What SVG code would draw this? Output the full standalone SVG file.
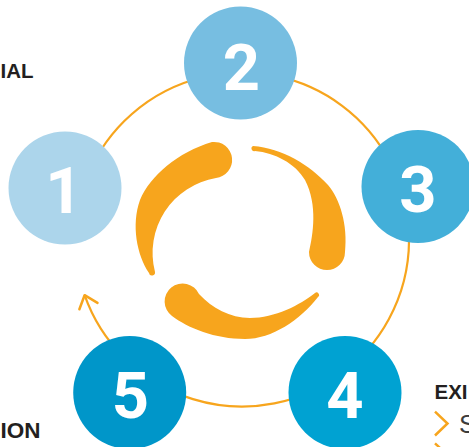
<svg xmlns="http://www.w3.org/2000/svg" width="469" height="447" viewBox="0 0 469 447">
<defs>
<style>
.ring{fill:none;stroke:#f7a51d;stroke-width:2.2}
.swirl{fill:#f7a51d}
.num{font-family:Roboto,"Liberation Sans",sans-serif;font-weight:700;font-size:65px;fill:#ffffff;text-anchor:middle}
.label{font-family:"Liberation Sans",Arial,sans-serif;font-weight:700;fill:#231f20}
.chev{fill:none;stroke:#f7a51d;stroke-width:2.5}
</style>
<marker id="arrow" markerUnits="userSpaceOnUse" markerWidth="30" markerHeight="30" viewBox="-15 -15 30 30" refX="0" refY="0" orient="auto" overflow="visible">
<path d="M-11.5,-9.6 L0,0 L-11.5,9.6" fill="none" stroke="#f7a51d" stroke-width="2.5" stroke-linecap="round" stroke-linejoin="round"/>
</marker>
</defs>
<rect width="469" height="447" fill="#ffffff"/>
<g id="connectors">
<path class="ring" d="M85.1,182.4 A167,167 0 1 1 84.6,295.2" marker-end="url(#arrow)"/>
</g>
<g id="swirl">
<path class="swirl" d="M149,273 C137,255 131,225 140,200 C150,176 178,152 212,142 A18,18 0 0 1 216,178 A76,76 0 0 0 155,272 A3,3 0 0 1 149,273 Z"/>
<path class="swirl" d="M253,146 C282,148 310,165 328,185 C340,199 348,225 345,252 A18,18 0 0 1 309,252 C313,235 318,205 305,180 C295,163 275,153 255,151 A2.7,2.7 0 0 1 253,146 Z"/>
<path class="swirl" d="M315,293 C300,305 275,318 250,318 C230,318 212,308 199,294 A18,18 0 1 0 172,316 C188,328 215,339 245,339 C272,339 300,320 318,297 A2.5,2.5 0 0 0 315,293 Z"/>
</g>
<g id="node-1"><circle cx="65" cy="188" r="56.5" fill="#acd5eb"/><text class="num" x="64" y="213">1</text></g>
<g id="node-2"><circle cx="240.5" cy="63" r="56.5" fill="#77bee1"/><text class="num" x="241.5" y="90">2</text></g>
<g id="node-3"><circle cx="418" cy="186.5" r="56.5" fill="#43afd9"/><text class="num" x="418" y="211.7">3</text></g>
<g id="node-4"><circle cx="345" cy="392.5" r="56.5" fill="#00a2d2"/><text class="num" x="345" y="418.3">4</text></g>
<g id="node-5"><circle cx="129.7" cy="392.5" r="56.5" fill="#0096c9"/><text class="num" x="130.3" y="418.3">5</text></g>
<g id="labels">
<text class="label" x="0.5" y="78.3" font-size="20.5">IAL</text>
<text class="label" x="0.5" y="437.7" font-size="22.5">ION</text>
<text class="label" x="434.5" y="399" font-size="20.5">EXI</text>
<path class="chev" d="M435,411.7 L447.5,423.5 L435,435.5"/>
<path class="chev" d="M435,443.3 L447.5,455 L435,467"/>
<text x="459" y="433.3" font-family="'Liberation Sans',Arial,sans-serif" font-size="26" fill="#3c3c3c">S</text>
</g>
</svg>
